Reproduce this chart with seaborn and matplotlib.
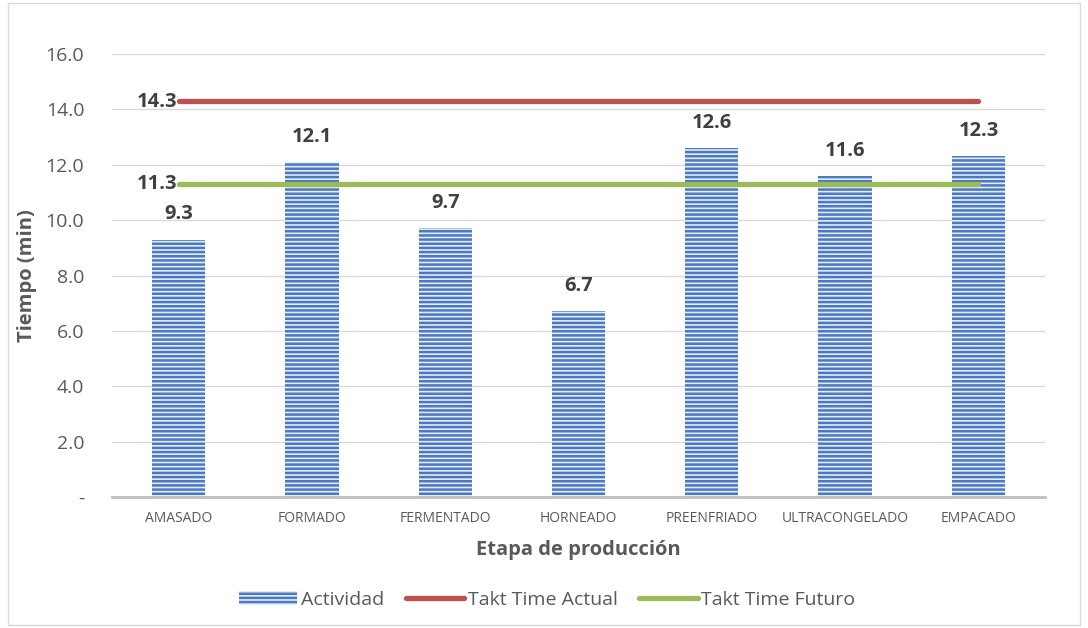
import matplotlib
matplotlib.use("Agg")
import matplotlib.pyplot as plt
import seaborn as sns
import pandas as pd
from matplotlib.ticker import FuncFormatter
from matplotlib.patches import Rectangle

categories = ["AMASADO", "FORMADO", "FERMENTADO", "HORNEADO", "PREENFRIADO", "ULTRACONGELADO", "EMPACADO"]
actividad = [9.3, 12.1, 9.7, 6.7, 12.6, 11.6, 12.3]
takt_actual = [14.3] * 7
takt_futuro = [11.3] * 7
yticks = [0, 2, 4, 6, 8, 10, 12, 14, 16]

sns.set_theme(style="white")
plt.rcParams['font.family'] = ['Open Sans', 'DejaVu Sans']
plt.rcParams['hatch.color'] = '#4a78c2'
plt.rcParams['hatch.linewidth'] = 1.8

fig = plt.figure(figsize=(10.88, 6.28), dpi=100)
ax = fig.add_axes([0.103, 0.2086, 0.8575, 0.7054])

df = pd.DataFrame({"Etapa": categories, "Actividad": actividad})
sns.barplot(data=df, x="Etapa", y="Actividad", ax=ax, width=0.4,
            color='#e4ecf7', saturation=1)
for p in ax.patches:
    p.set_hatch('----')
    p.set_edgecolor('#4a78c2')
    p.set_linewidth(0)
bar_handle = ax.patches[0]

x = list(range(len(categories)))
l1, = ax.plot(x, takt_actual, color='#c0504d', lw=3.8, solid_capstyle='round')
l2, = ax.plot(x, takt_futuro, color='#9bbb59', lw=3.8, solid_capstyle='round')

txtc = '#404040'
fs_lab = 14.5
for i, v in enumerate(actividad):
    ax.annotate(f"{v:.1f}", (i, v), xytext=(0, 11), textcoords='offset points',
                ha='center', va='bottom', fontsize=fs_lab, fontweight='bold', color=txtc)
ax.annotate(f"{takt_actual[0]:.1f}", (0, takt_actual[0]), xytext=(-1, -1), textcoords='offset points',
            ha='right', va='center', fontsize=fs_lab, fontweight='bold', color=txtc)
ax.annotate(f"{takt_futuro[0]:.1f}", (0, takt_futuro[0]), xytext=(-1, 0), textcoords='offset points',
            ha='right', va='center', fontsize=fs_lab, fontweight='bold', color=txtc)

ax.set_ylim(0, 16)
ax.set_xlim(-0.5, len(categories) - 0.5)
ax.set_yticks(yticks)
ax.yaxis.set_major_formatter(FuncFormatter(lambda v, p: "-" if v == 0 else f"{v:.1f}"))
ax.grid(axis='y', color='#d9d9d9', lw=1)
ax.set_axisbelow(True)
for s in ['top', 'right', 'left']:
    ax.spines[s].set_visible(False)
ax.spines['bottom'].set_color('#bfbfbf')
ax.spines['bottom'].set_linewidth(2)
ax.tick_params(axis='y', length=0, labelsize=14, labelcolor='#595959', pad=20)
ax.tick_params(axis='x', length=0, labelsize=10, labelcolor='#595959', pad=10)
ax.set_xlabel("Etapa de producción", fontsize=14.5, fontweight='bold', color='#595959', labelpad=10)
ax.set_ylabel("Tiempo (min)", fontsize=14.5, fontweight='bold', color='#595959')
ax.yaxis.set_label_coords(-0.080, 0.5)

leg = fig.legend([bar_handle, l1, l2], ["Actividad", "Takt Time Actual", "Takt Time Futuro"],
                 loc='center', bbox_to_anchor=(0.503, 0.045), ncol=3, frameon=False,
                 fontsize=14, handlelength=3.0, columnspacing=1.1, handletextpad=0.2)
for t in leg.get_texts():
    t.set_color('#595959')

fig.patches.append(Rectangle((0.007, 0.005), 0.986, 0.99, transform=fig.transFigure,
                             fill=False, edgecolor='#d9d9d9', lw=1))

fig.savefig("out.png", dpi=100)
